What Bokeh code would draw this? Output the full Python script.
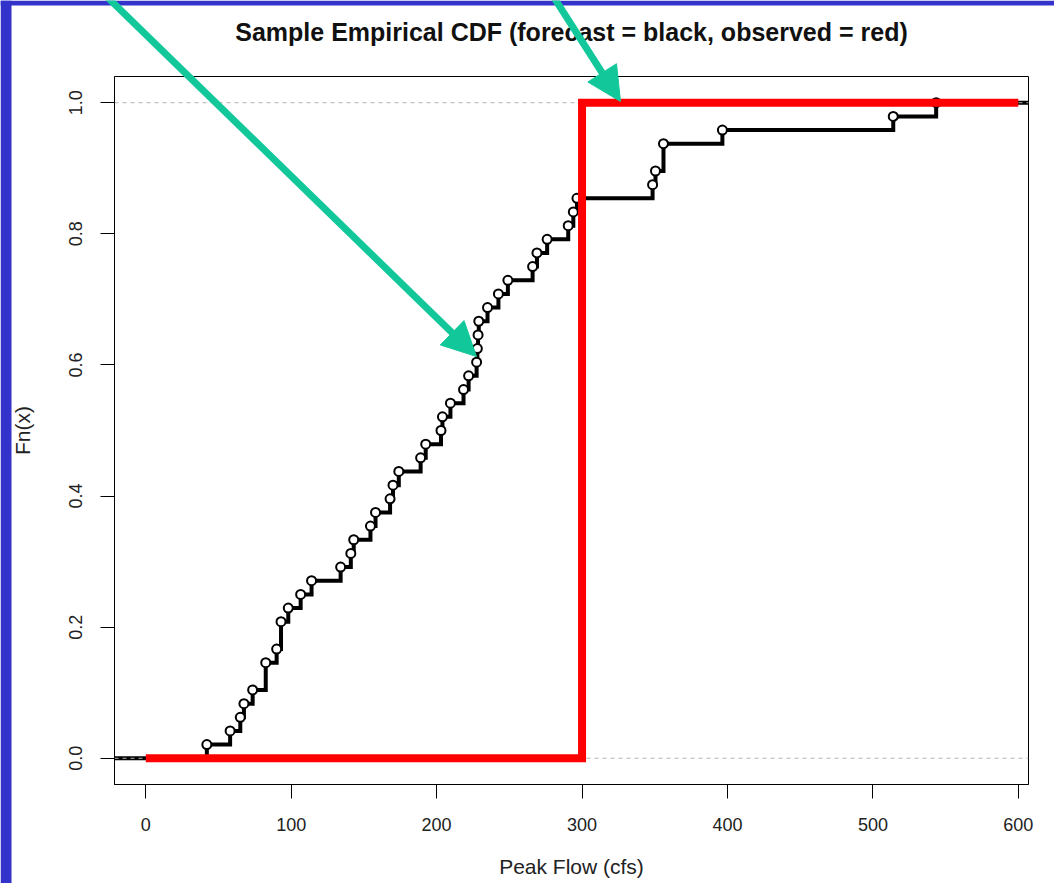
import numpy as np
from bokeh.plotting import figure
from bokeh.models import Arrow, NormalHead, FixedTicker, PrintfTickFormatter, Range1d, Label
from bokeh.embed import file_html
from bokeh.resources import INLINE

# ---------------- data ----------------
forecast = [42, 58, 65, 67.5, 73.5, 82.5, 82.5, 90, 93, 93, 98, 106.5, 114,
            134, 141, 143, 154.5, 158, 168, 170, 174, 189, 192.5, 203, 204,
            209.5, 218.5, 222, 227.5, 228, 228.5, 229, 235, 242.5, 249, 266,
            269, 276, 290.5, 294, 296.5, 348.5, 350.5, 356, 356, 396.5, 514,
            543.5]
observed = 300.0
observed_span = [0.0, 600.0]
x_ticks = [0, 100, 200, 300, 400, 500, 600]
y_ticks = [0.0, 0.2, 0.4, 0.6, 0.8, 1.0]
ref_levels = [0.0, 1.0]
x_lim = [-21.5, 607.0]
y_lim = [-0.04, 1.04]
title_text = "Sample Empirical CDF (forecast = black, observed = red)"

TEAL = "#12c89b"
BLUE = "#3333cc"
FONT = "Liberation Sans"
W, H = 1054, 883

# ---------------- ECDFs ----------------
xs = np.sort(np.asarray(forecast, dtype=float))
ux, counts = np.unique(xs, return_counts=True)
Fn = np.cumsum(counts) / len(xs)
fc_x = np.concatenate([[x_lim[0]], ux, [x_lim[1]]])
fc_y = np.concatenate([[0.0], Fn, [1.0]])

ob_x = [observed_span[0], observed, observed_span[1]]
ob_y = [0.0, 1.0, 1.0]

# ---------------- main figure ----------------
p = figure(width=W, height=H, output_backend="svg", toolbar_location=None,
           x_range=Range1d(*x_lim), y_range=Range1d(*y_lim),
           min_border_left=114, min_border_right=26, min_border_top=76,
           min_border_bottom=99,
           background_fill_color="white", border_fill_color="white")
p.grid.visible = False
p.outline_line_color = "black"
p.outline_line_width = 1

for ax in (p.xaxis[0], p.yaxis[0]):
    ax.major_tick_out = 14
    ax.major_tick_in = 0
    ax.minor_tick_out = 0
    ax.minor_tick_in = 0
    ax.major_tick_line_color = "black"
    ax.axis_line_color = "black"
    ax.major_label_text_font = FONT
    ax.major_label_text_font_size = "18px"
    ax.major_label_text_color = "#222222"
    ax.axis_label_text_font = FONT
    ax.axis_label_text_font_size = "21px"
    ax.axis_label_text_font_style = "normal"
    ax.axis_label_text_color = "#222222"

p.xaxis.ticker = FixedTicker(ticks=x_ticks)
p.yaxis.ticker = FixedTicker(ticks=y_ticks)
p.yaxis.formatter = PrintfTickFormatter(format="%.1f")
p.yaxis.major_label_orientation = "vertical"
p.xaxis.axis_label = "Peak Flow (cfs)"
p.yaxis.axis_label = "Fn(x)"
p.xaxis.major_label_standoff = 19
p.yaxis.major_label_standoff = 18
p.xaxis.axis_label_standoff = 21
p.yaxis.axis_label_standoff = 33

# forecast ECDF (black), then the 0/1 reference lines, then observed (red)
p.step(fc_x, fc_y, mode="after", line_color="black", line_width=4,
       line_join="miter")
for lvl in ref_levels:
    p.line(x_lim, [lvl, lvl], line_color="#b3b3b3", line_dash="4 4", line_width=1)
p.scatter(ux, Fn, size=9, fill_color="white", line_color="black", line_width=2)
p.step(ob_x, ob_y, mode="after", line_color="#ff0000", line_width=8,
       line_join="miter")

# ---------------- overlay (title, page frame, pointer arrows) in pixels ----
ov = figure(width=W, height=H, output_backend="svg", toolbar_location=None,
            x_range=Range1d(0, W), y_range=Range1d(H, 0),
            x_axis_type=None, y_axis_type=None, min_border=0,
            background_fill_alpha=0, border_fill_alpha=0,
            outline_line_color=None,
            styles={"position": "absolute", "top": "0px", "left": "0px"})
ov.grid.visible = False
ov.quad(left=[0, 0], right=[11, W], top=[0, 0], bottom=[H, 5],
        fill_color=BLUE, line_color=None)
ov.add_layout(Label(x=571, y=31, text=title_text, text_align="center",
                    text_baseline="middle", text_font=FONT, text_font_size="25px",
                    text_font_style="bold", text_color="#111111"))
arrows = [(100, -10, 476, 356), (549, -10, 620, 101)]
for a in arrows:
    ov.add_layout(Arrow(end=NormalHead(size=34, fill_color=TEAL, line_color=TEAL),
                        x_start=a[0], y_start=a[1], x_end=a[2], y_end=a[3],
                        line_color=TEAL, line_width=7))

open("out.html", "w").write(file_html([p, ov], INLINE))
